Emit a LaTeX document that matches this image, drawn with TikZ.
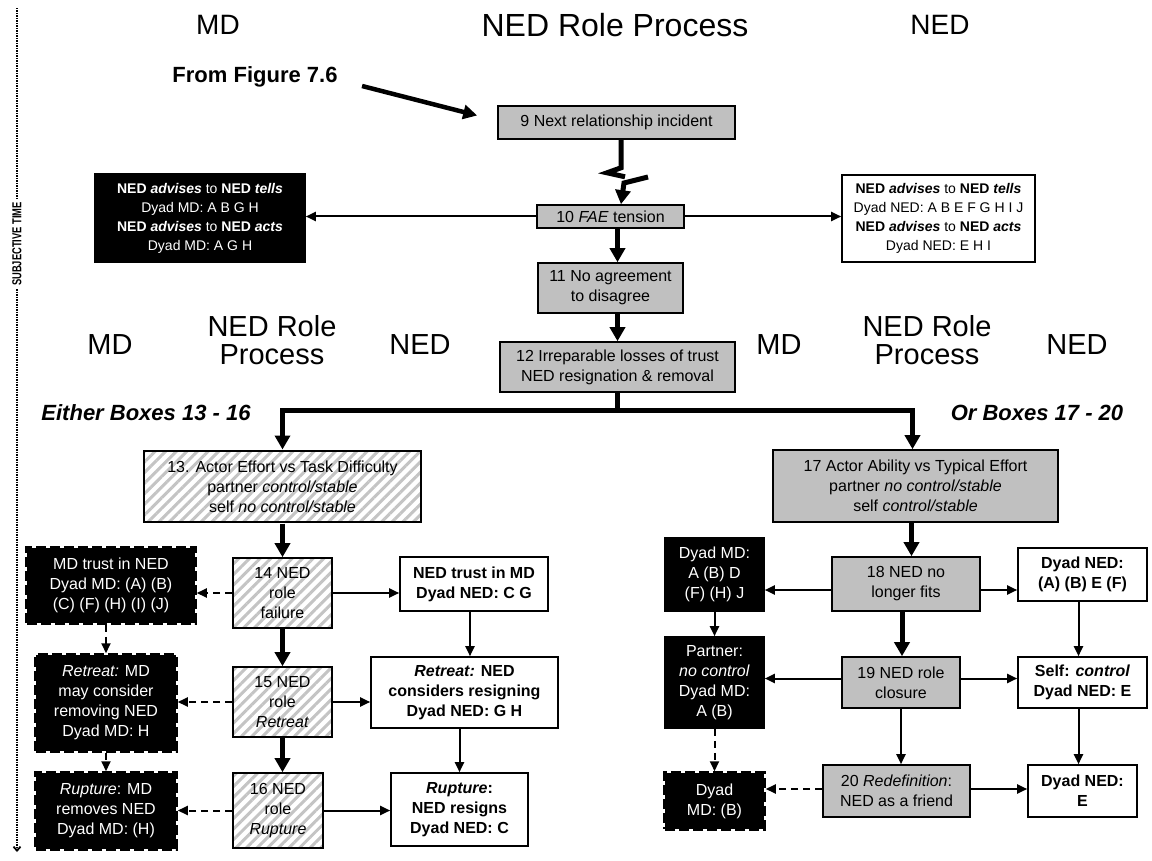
\documentclass[tikz,border=0pt]{standalone}
\usepackage{fontspec}
\setmainfont{Liberation Sans}
\usetikzlibrary{arrows.meta,patterns.meta,calc}
\definecolor{boxgray}{HTML}{C0C0C0}
\definecolor{hatchgray}{HTML}{C4C4C4}
\newcommand\fsz[2]{\fontsize{#1}{#2}\selectfont}

\begin{document}
\begin{tikzpicture}[x=1pt,y=-1pt,
  box/.style={draw, line width=1.6pt, align=center, inner sep=0pt, font=\fsz{16}{20}},
  graybox/.style={box, fill=boxgray},
  whitebox/.style={box, fill=white, font=\fsz{16}{20}\bfseries},
  hatchbox/.style={box, preaction={fill=white}, pattern={Lines[angle=45,distance=7.5pt,line width=3pt]}, pattern color=hatchgray},
  blackbox/.style={box, fill=black, text=white},
  dashbox/.style={blackbox, line width=3.5pt, dash pattern=on 10pt off 4pt},
  sz/.style 2 args={minimum width=#1pt, minimum height=#2pt},
  flow/.style={line width=2pt, -{Triangle[length=10pt,width=9pt]}},
  dflow/.style={flow, dash pattern=on 7pt off 5pt},
  bigflow/.style={line width=5pt, -{Triangle[length=14pt,width=15pt]}},
  header/.style={font=\fsz{28}{28}},
  subhead/.style={font=\fsz{29}{28}, align=center},
  lead/.style={font=\fsz{22}{22}\bfseries\itshape},
  ]
\useasboundingbox (0,0) rectangle (1152,861);

% time axis
\node[rotate=90, font=\fsz{13}{13}\bfseries] (axis) at (17,244) {\scalebox{0.72}[1]{SUBJECTIVE TIME}};
\coordinate (axtop) at (17,8);
\coordinate (axbot) at (17,852);
\draw[line width=1.8pt, dash pattern=on 1.5pt off 1pt] (axtop) -- (axis.east);
\draw[line width=1.8pt, dash pattern=on 1.5pt off 1pt, -{Straight Barb[length=4pt,width=7pt]}] (axis.west) -- (axbot);

% column headings
\node[header] (hMD) at (218,25) {MD};
\node[header, font=\fsz{32}{32}] (hRole) at (615,25) {NED Role Process};
\node[header] (hNED) at (940,25) {NED};
\node[subhead] (sMDa) at (110,345) {MD};
\node[subhead] (sRolea) at (272,340) {NED Role\\Process};
\node[subhead] (sNEDa) at (420,345) {NED};
\node[subhead] (sMDb) at (779,345) {MD};
\node[subhead] (sRoleb) at (927,340) {NED Role\\Process};
\node[subhead] (sNEDb) at (1077,345) {NED};
\node[lead] (either) at (146,413) {Either Boxes 13 - 16};
\node[lead] (orb) at (1037,413) {Or Boxes 17 - 20};

% entry
\node[font=\fsz{22}{22}\bfseries] (fig) at (255,77) {From Figure 7.6};

% upper chain
\node[graybox, sz={237}{33}] (b9) at (616.5,122.5) {9 Next relationship incident};
\node[graybox, sz={147}{23}] (b10) at (610.5,216.5) {10 \textit{FAE} tension};
\node[graybox, sz={145}{50}] (b11) at (610.5,288) {11 No agreement\\to disagree};
\node[graybox, sz={235}{50}] (b12) at (617.5,367) {12 Irreparable losses of trust\\NED resignation \& removal};

\node[blackbox, sz={210}{88}, font=\fsz{14}{19}] (advMD) at (200,218)
  {\textbf{NED \textit{advises}} to \textbf{NED \textit{tells}}\\Dyad MD: A B G H\\
   \textbf{NED \textit{advises}} to \textbf{NED \textit{acts}}\\Dyad MD: A G H};
\node[box, fill=white, sz={193}{87}, font=\fsz{14}{19}] (advNED) at (938.5,218.5)
  {\textbf{NED \textit{advises}} to \textbf{NED \textit{tells}}\\Dyad NED: A B E F G H I J\\
   \textbf{NED \textit{advises}} to \textbf{NED \textit{acts}}\\Dyad NED: E H I};

% left branch
\node[hatchbox, sz={277}{71}] (b13) at (282.5,486.5) {13. Actor Effort vs Task Difficulty\\partner \textit{control/stable}\\self \textit{no control/stable}};
\node[hatchbox, sz={99}{70}] (b14) at (282.5,593) {14 NED\\role\\failure};
\node[hatchbox, sz={99}{70}] (b15) at (282.5,702) {15 NED\\role\\\textit{Retreat}};
\node[hatchbox, sz={90}{75}] (b16) at (278,810.5) {16 NED\\role\\\textit{Rupture}};

\node[dashbox, sz={168}{75}] (l1) at (111,585.5) {MD trust in NED\\Dyad MD: (A) (B)\\(C) (F) (H) (I) (J)};
\node[dashbox, sz={140}{96}] (l2) at (106,703) {\textit{Retreat:} MD\\may consider\\removing NED\\Dyad MD: H};
\node[dashbox, sz={140}{76}] (l3) at (106,811) {\textit{Rupture}: MD\\removes NED\\Dyad MD: (H)};

\node[whitebox, sz={148}{54}] (r1) at (474,584) {NED trust in MD\\Dyad NED: C G};
\node[whitebox, sz={187}{71}] (r2) at (464.5,692.5) {\textit{Retreat:} NED\\considers resigning\\Dyad NED: G H};
\node[whitebox, sz={137}{73}] (r3) at (459.5,809.5) {\textit{Rupture}:\\NED resigns\\Dyad NED: C};

% right branch
\node[graybox, sz={285}{72}] (b17) at (915.5,486) {17 Actor Ability vs Typical Effort\\partner \textit{no control/stable}\\self \textit{control/stable}};
\node[graybox, sz={148}{54}] (b18) at (906,584) {18 NED no\\longer fits};
\node[graybox, sz={118}{51}] (b19) at (901,682.5) {19 NED role\\closure};
\node[graybox, sz={147}{52}] (b20) at (896.5,791) {20 \textit{Redefinition}:\\NED as a friend};

\node[blackbox, sz={99}{73}] (ma) at (714.5,574.5) {Dyad MD:\\A (B) D\\(F) (H) J};
\node[blackbox, sz={99}{91}] (mb) at (714.5,682.5) {Partner:\\\textit{no control}\\Dyad MD:\\A (B)};
\node[dashbox, sz={99}{56}] (mc) at (714.5,801) {Dyad\\MD: (B)};

\node[whitebox, sz={129}{53}] (na) at (1082.5,574.5) {Dyad NED:\\(A) (B) E (F)};
\node[whitebox, sz={129}{51}] (nb) at (1082.5,682.5) {Self: \textit{control}\\Dyad NED: E};
\node[whitebox, sz={109}{52}] (nc) at (1082.5,791) {Dyad NED:\\E};

% connectors: entry and upper chain
\draw[line width=4.5pt, -{Triangle[length=14pt,width=14pt]}] ($(fig.east)+(21,9)$) -- ($(b9.west)+(-20,-7)$);
\coordinate (sq) at (621,150);
\coordinate (sq2) at (648,177);
\draw[line width=5pt, line join=miter] (b9.south -| sq) -- ++(0,28) -- ++(-14,5) -- ++(18,4);
\draw[bigflow, line join=miter] (sq2) -- ++(-24,6) -- (b10.north -| sq);
\draw[flow] (b10.west) -- (b10.west -| advMD.east);
\draw[flow] (b10.east) -- (b10.east -| advNED.west);
\draw[bigflow] (b10.south -| b12.north) -- (b11.north -| b12.north);
\draw[bigflow] (b11.south -| b12.north) -- (b12.north);

% split into the two alternatives
\coordinate (bus) at (617.5,410);
\draw[line width=5pt] (b12.south) -- (bus);
\draw[bigflow, line join=miter] (bus) -| (b13.north);
\draw[bigflow, line join=miter] (bus) -| ([xshift=-3pt]b17.north);

% left branch connectors
\draw[bigflow] (b13.south) -- (b14.north);
\draw[bigflow] (b14.south) -- (b15.north);
\draw[bigflow] (b15.south) -- (b15.south |- b16.north);
\draw[dflow] (b14.west) -- (b14.west -| l1.east);
\draw[dflow] (b15.west) -- (b15.west -| l2.east);
\draw[dflow] (b16.west) -- (b16.west -| l3.east);
\draw[flow] (b14.east) -- (b14.east -| r1.west);
\draw[flow] (b15.east) -- (b15.east -| r2.west);
\draw[flow] (b16.east) -- (b16.east -| r3.west);
\draw[dflow] (l1.south -| l2.north) -- (l2.north);
\draw[dflow] (l2.south) -- (l3.north);
\draw[flow] ([xshift=-4pt]r1.south) -- ([xshift=-4pt]r1.south |- r2.north);
\draw[flow] (r2.south -| r3.north) -- (r3.north);

% right branch connectors
\draw[bigflow] ([xshift=-4pt]b17.south) -- ([xshift=-4pt]b17.south |- b18.north);
\draw[bigflow] ([xshift=-4pt]b18.south) -- ([xshift=-4pt]b18.south |- b19.north);
\draw[flow] (b19.south) -- (b19.south |- b20.north);
\draw[flow] ([yshift=-6pt]b18.west) -- ([yshift=-6pt]b18.west -| ma.east);
\draw[flow] ([yshift=-6pt]b18.east) -- ([yshift=-6pt]b18.east -| na.west);
\draw[flow] ([yshift=4pt]b19.west) -- ([yshift=4pt]b19.west -| mb.east);
\draw[flow] ([yshift=4pt]b19.east) -- ([yshift=4pt]b19.east -| nb.west);
\draw[dflow] ([yshift=2pt]b20.west) -- ([yshift=2pt]b20.west -| mc.east);
\draw[flow] ([yshift=2pt]b20.east) -- ([yshift=2pt]b20.east -| nc.west);
\draw[flow] (ma.south) -- (mb.north);
\draw[dflow] (mb.south) -- (mc.north);
\draw[flow] ([xshift=-4pt]na.south) -- ([xshift=-4pt]na.south |- nb.north);
\draw[flow] ([xshift=-4pt]nb.south) -- ([xshift=-4pt]nb.south |- nc.north);
\end{tikzpicture}
\end{document}
